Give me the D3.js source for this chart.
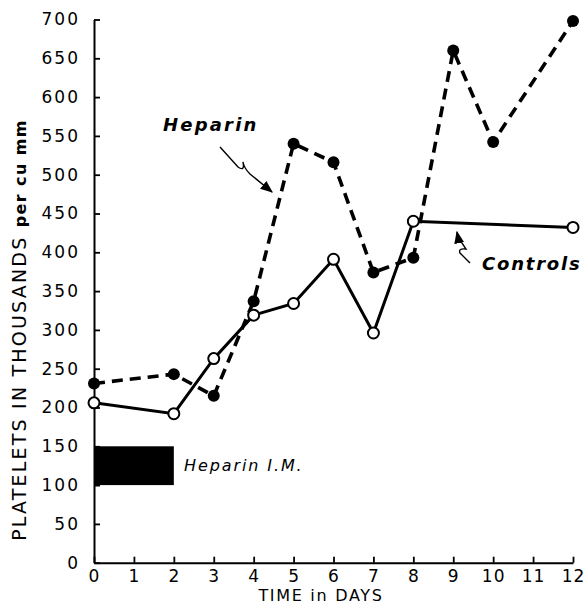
<!DOCTYPE html>
<html>
<head>
<meta charset="utf-8">
<script src="https://cdn.jsdelivr.net/npm/d3@7"></script>
<style>
  body { margin: 0; background: #fff; }
  svg { display: block; }
  text { font-family: "DejaVu Sans", sans-serif; fill: #000; }
</style>
</head>
<body>
<svg id="chart" width="585" height="605"></svg>
<script>
// platelet counts (thousands per cu mm) by day
var controlDays = [0, 2, 3, 4, 5, 6, 7, 8, 12];
var controlValues = [206, 192, 263, 319, 334, 391, 296, 440, 432];
var heparinDays = [0, 2, 3, 4, 5, 6, 7, 8, 9, 10, 12];
var heparinValues = [231, 243, 215, 337, 540, 516, 374, 393, 660, 542, 698];
var injectionDays = [0, 2];
var injectionRange = [100, 150];
var xTicks = [0, 1, 2, 3, 4, 5, 6, 7, 8, 9, 10, 11, 12];
var yTicks = [0, 50, 100, 150, 200, 250, 300, 350, 400, 450, 500, 550, 600, 650, 700];

var svg = d3.select("#chart");

var x = d3.scaleLinear().domain([0, 12]).range([94, 573]);
var y = d3.scaleLinear().domain([0, 700]).range([562.7, 19.5]);

var xAxis = d3.axisBottom(x).tickValues(xTicks).tickSize(-6).tickSizeOuter(0).tickPadding(7);
var yAxis = d3.axisLeft(y).tickValues(yTicks).tickSize(-6).tickSizeOuter(0).tickPadding(16);

var gx = svg.append("g").attr("transform", "translate(0," + y(0) + ")").call(xAxis);
var gy = svg.append("g").attr("transform", "translate(" + x(0) + ",0)").call(yAxis);

[gx, gy].forEach(function(g) {
  g.select(".domain").attr("stroke", "#000").attr("stroke-width", 2);
  g.selectAll(".tick line").attr("stroke", "#000").attr("stroke-width", 1.8);
  g.selectAll(".tick text")
    .attr("font-family", "DejaVu Sans, sans-serif")
    .attr("font-size", 17)
    .attr("fill", "#000");
});
gy.selectAll(".tick text").attr("letter-spacing", 2).attr("dx", 2);
gx.selectAll(".tick text").attr("letter-spacing", 1);

// axis titles
svg.append("text")
  .attr("x", 321).attr("y", 601)
  .attr("text-anchor", "middle")
  .attr("font-size", 16)
  .attr("letter-spacing", 1.7)
  .text("TIME in DAYS");

var ylab = svg.append("text")
  .attr("transform", "translate(26,330) rotate(-90)")
  .attr("text-anchor", "middle");
ylab.append("tspan").attr("font-size", 19).attr("letter-spacing", 2.2).text("PLATELETS IN THOUSANDS ");
ylab.append("tspan").attr("font-size", 16).attr("font-weight", "bold").attr("letter-spacing", 1.4).text("per cu mm");

// heparin injection period
svg.append("rect")
  .attr("x", x(injectionDays[0]))
  .attr("width", x(injectionDays[1]) - x(injectionDays[0]))
  .attr("y", y(injectionRange[1]))
  .attr("height", y(injectionRange[0]) - y(injectionRange[1]))
  .attr("fill", "#000");

svg.append("text")
  .attr("x", 184).attr("y", 471)
  .attr("font-size", 16)
  .attr("font-style", "italic")
  .attr("letter-spacing", 1.9)
  .text("Heparin I.M.");

var heparin = heparinDays.map(function(d, i) { return [d, heparinValues[i]]; });
var controls = controlDays.map(function(d, i) { return [d, controlValues[i]]; });

var line = d3.line()
  .x(function(d) { return x(d[0]); })
  .y(function(d) { return y(d[1]); });

svg.append("path")
  .datum(heparin)
  .attr("d", line)
  .attr("fill", "none")
  .attr("stroke", "#000")
  .attr("stroke-width", 3.6)
  .attr("stroke-dasharray", "11,7");

svg.append("path")
  .datum(controls)
  .attr("d", line)
  .attr("fill", "none")
  .attr("stroke", "#000")
  .attr("stroke-width", 3);

svg.selectAll(".hep-dot")
  .data(heparin)
  .enter()
  .append("circle")
  .attr("class", "hep-dot")
  .attr("cx", function(d) { return x(d[0]); })
  .attr("cy", function(d) { return y(d[1]); })
  .attr("r", 6)
  .attr("fill", "#000");

svg.selectAll(".ctl-dot")
  .data(controls)
  .enter()
  .append("circle")
  .attr("class", "ctl-dot")
  .attr("cx", function(d) { return x(d[0]); })
  .attr("cy", function(d) { return y(d[1]); })
  .attr("r", 5.5)
  .attr("fill", "#fff")
  .attr("stroke", "#000")
  .attr("stroke-width", 2);

// series labels with squiggly arrows
svg.append("defs").append("marker")
  .attr("id", "head")
  .attr("viewBox", "0 0 10 10")
  .attr("refX", 9).attr("refY", 5)
  .attr("markerWidth", 9).attr("markerHeight", 9)
  .attr("orient", "auto")
  .append("path")
  .attr("d", "M0,1 L10,5 L0,9 Z")
  .attr("fill", "#000");

svg.append("text")
  .attr("x", 163).attr("y", 131)
  .attr("font-size", 18)
  .attr("font-weight", "bold")
  .attr("font-style", "italic")
  .attr("letter-spacing", 2.2)
  .text("Heparin");

svg.append("path")
  .attr("d", "M220,147 L238,167 Q245,172 243,162 Q244,168 250,174 L272,192")
  .attr("fill", "none")
  .attr("stroke", "#000")
  .attr("stroke-width", 1.4)
  .attr("marker-end", "url(#head)");

svg.append("text")
  .attr("x", 482).attr("y", 270)
  .attr("font-size", 18)
  .attr("font-weight", "bold")
  .attr("font-style", "italic")
  .attr("letter-spacing", 1.8)
  .text("Controls");

svg.append("path")
  .attr("d", "M470,263 L460,253 Q458,248 466,249 L458,237 L457,232")
  .attr("fill", "none")
  .attr("stroke", "#000")
  .attr("stroke-width", 1.4)
  .attr("marker-end", "url(#head)");
</script>
</body>
</html>
